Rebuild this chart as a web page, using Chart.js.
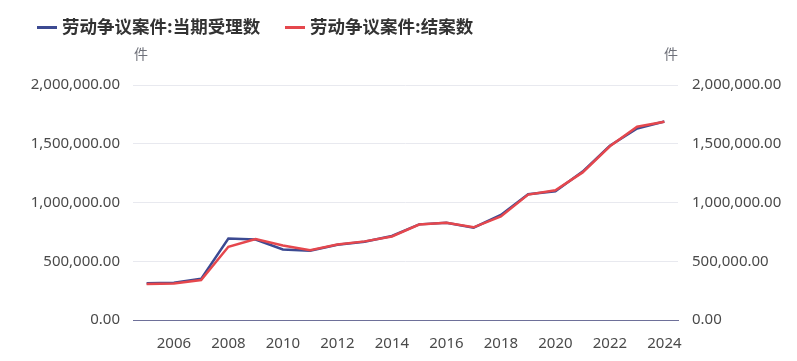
<!DOCTYPE html>
<html>
<head>
 <meta charset="UTF-8">
 <title>劳动争议案件</title>
 <script src="https://cdn.jsdelivr.net/npm/chart.js@4.4.1/dist/chart.umd.min.js"></script>
 <style>
  html, body { margin: 0; padding: 0; background: #fff; }
  .wrap { position: relative; width: 797px; height: 361px; }
  .legend { position: absolute; top: 14px; left: 37px; font: bold 17.5px "Noto Sans CJK SC", "Noto Sans", sans-serif; color: #333; }
  .item { position: absolute; top: 0; white-space: nowrap; line-height: 24px; }
  .item i { display: inline-block; width: 20px; height: 3px; vertical-align: middle; margin-right: 5px; position: relative; top: -1px; }
 </style>
</head>
<body>
<div class="wrap">
 <div class="legend">
  <div class="item" style="left:0"><i style="background:#3c4a92"></i><span id="lg0"></span></div>
  <div class="item" style="left:248px"><i style="background:#e5474d"></i><span id="lg1"></span></div>
 </div>
 <canvas id="myChart" width="797" height="361"></canvas>
</div>

<script>
 // data
 var years = ["2005","2006","2007","2008","2009","2010","2011","2012","2013","2014",
              "2015","2016","2017","2018","2019","2020","2021","2022","2023","2024"];
 var acceptedCases = [313773, 317162, 350182, 693465, 684379, 600865, 589244, 641202, 665760, 715163,
                      813859, 828410, 785323, 894053, 1069638, 1094788, 1263000, 1483000, 1630000, 1690000];
 var closedCases = [306027, 310780, 340030, 622719, 689714, 634041, 592823, 643292, 669062, 711044,
                    812461, 826834, 789000, 881000, 1067000, 1104000, 1256000, 1478000, 1645000, 1688000];
 var seriesNames = ["劳动争议案件:当期受理数", "劳动争议案件:结案数"];
 var unitName = "件";

 document.getElementById("lg0").textContent = seriesNames[0];
 document.getElementById("lg1").textContent = seriesNames[1];

 var tickFont = { family: "'Noto Sans', 'Noto Sans CJK SC', sans-serif", size: 15 };
 function fmt(v) {
  return Number(v).toLocaleString("en-US", { minimumFractionDigits: 2, maximumFractionDigits: 2 });
 }

 // draws the unit name above both value axes
 var unitPlugin = {
  id: "unitNames",
  afterDraw: function(chart) {
   var ctx = chart.ctx, a = chart.chartArea;
   ctx.save();
   ctx.font = "14px 'Noto Sans CJK SC', sans-serif";
   ctx.fillStyle = "#6e7079";
   ctx.textAlign = "center";
   ctx.textBaseline = "middle";
   ctx.fillText(unitName, a.left + 8, a.top - 31);
   ctx.fillText(unitName, a.right - 7, a.top - 31);
   ctx.restore();
  }
 };

 var ctx = document.getElementById("myChart");
 var myChart = new Chart(ctx, {
  type: "line",
  data: {
   labels: years,
   datasets: [
    { label: seriesNames[0], data: acceptedCases, borderColor: "#3c4a92", backgroundColor: "#3c4a92",
      borderWidth: 2.5, pointRadius: 0, fill: false, tension: 0, yAxisID: "y", order: 2 },
    { label: seriesNames[1], data: closedCases, borderColor: "#e5474d", backgroundColor: "#e5474d",
      borderWidth: 2.5, pointRadius: 0, fill: false, tension: 0, yAxisID: "y", order: 1 }
   ]
  },
  options: {
   responsive: false,
   animation: false,
   layout: { padding: { top: 85, left: 0, right: 0, bottom: 0 } },
   plugins: { legend: { display: false }, tooltip: { enabled: false } },
   scales: {
    x: {
     offset: true,
     grid: { display: false },
     border: { display: true, color: "#6e7099", width: 1 },
     ticks: {
      autoSkip: false, maxRotation: 0, padding: 7, color: "#4a4a4a", font: tickFont,
      callback: function(v, i) { return i % 2 === 1 ? years[i] : ""; }
     },
     afterFit: function(s) { s.height = 41; }
    },
    y: {
     position: "left", min: 0, max: 2000000,
     grid: { color: "#e8e9ef", drawTicks: false },
     border: { display: false },
     ticks: { stepSize: 500000, padding: 13, color: "#4a4a4a", font: tickFont, callback: fmt },
     afterFit: function(s) { s.width = 133; }
    },
    y2: {
     position: "right", min: 0, max: 2000000,
     grid: { display: false, drawTicks: false },
     border: { display: false },
     ticks: { stepSize: 500000, padding: 14, color: "#4a4a4a", font: tickFont, callback: fmt },
     afterFit: function(s) { s.width = 119; }
    }
   }
  },
  plugins: [unitPlugin]
 });
</script>
</body>
</html>
